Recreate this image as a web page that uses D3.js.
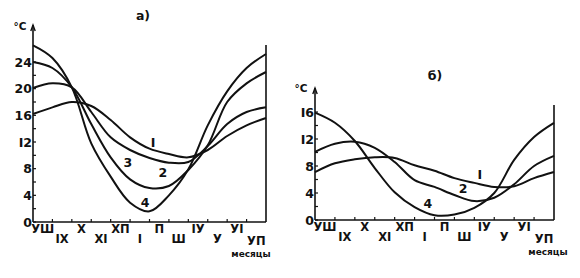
<!DOCTYPE html>
<html><head><meta charset="utf-8">
<script src="https://cdn.jsdelivr.net/npm/d3@7"></script>
<style>
html,body{margin:0;padding:0;background:#fff;}
svg text{font-family:"DejaVu Sans","Liberation Sans",sans-serif;fill:#111;}
</style></head>
<body><svg id="c" width="580" height="278"></svg>
<script>
// Month labels (as printed) - data values are read at month boundaries 0..12
const months = ["УШ","IX","X","XI","XП","I","П","Ш","IУ","У","УI","УП"];
const boundaryIdx = [0,1,2,3,4,5,6,7,8,9,10,11,12];

// Panel а) temperature series (°C), read at month boundaries
const a1 = [16.2,17.2,18.0,17.4,15.3,12.7,11.0,10.2,9.7,10.8,12.9,14.5,15.6];
const a2 = [20.1,20.8,20.2,16.5,12.7,10.8,9.6,8.9,9.0,11.4,14.7,16.5,17.2];
const a3 = [24.0,23.1,20.2,14.7,9.7,6.4,5.1,5.4,7.8,11.5,18.0,20.8,22.5];
const a4 = [26.5,24.6,20.2,11.8,6.8,2.9,1.6,4.0,7.9,14.5,19.6,23.1,25.2];
const ticksA = [0,4,8,12,16,20,24];
const tickLabelsA = ["0","4","8","I2","16","20","24"];

// Panel б) temperature series
const b1 = [7.1,8.4,9.0,9.3,9.2,8.1,7.3,6.2,5.5,4.9,5.0,6.2,7.1];
const b2 = [10.1,11.3,11.6,10.7,8.6,5.9,4.9,3.7,2.8,3.3,5.3,8.0,9.5];
const b4 = [15.9,14.4,11.7,7.7,4.1,1.9,0.7,0.8,1.8,4.0,8.9,12.3,14.4];
const ticksB = [0,4,8,12,16];
const tickLabelsB = ["0","4","8","I2","I6"];

// Curve labels [text, month position, temperature]
const curveLabelsA = [["I",6.18,11.9],["2",6.69,7.5],["3",4.89,9.0],["4",5.77,3.0]];
const curveLabelsB = [["I",8.28,6.7],["2",7.43,4.7],["4",5.67,2.5]];

const svg = d3.select("#c");

function panel(opt){
  const g = svg.append("g");
  const x = d3.scaleLinear().domain([0,12]).range(opt.xr);
  const y = d3.scaleLinear().domain(opt.yd).range(opt.yr);
  const x0 = opt.xr[0], x1 = opt.xr[1], y0 = y(0);
  // axes
  g.append("line").attr("x1",x0).attr("x2",x0).attr("y1",y0).attr("y2",opt.axTop)
    .attr("stroke","#111").attr("stroke-width",1.6);
  g.append("path").attr("d",`M${x0-2.2},${opt.axTop+6}L${x0},${opt.axTop}L${x0+2.2},${opt.axTop+6}`)
    .attr("fill","none").attr("stroke","#111").attr("stroke-width",1.4);
  g.append("line").attr("x1",x1).attr("x2",x1).attr("y1",y0).attr("y2",opt.rightTop)
    .attr("stroke","#111").attr("stroke-width",1.6);
  g.append("line").attr("x1",x0).attr("x2",x1).attr("y1",y0).attr("y2",y0)
    .attr("stroke","#111").attr("stroke-width",1.6);
  // y minor ticks every 2 degrees
  const ym = d3.range(0, opt.yd[1]+0.1, 2);
  g.selectAll(".ymt").data(ym).join("line")
    .attr("x1",x0).attr("x2",x0+3).attr("y1",d=>y(d)).attr("y2",d=>y(d))
    .attr("stroke","#111").attr("stroke-width",1.2);
  // x ticks at month boundaries
  g.selectAll(".xt").data(boundaryIdx.slice(1,12)).join("line")
    .attr("x1",d=>x(d)).attr("x2",d=>x(d)).attr("y1",y0).attr("y2",y0-3)
    .attr("stroke","#111").attr("stroke-width",1.2);
  // y tick labels
  g.selectAll(".yl").data(opt.ticks).join("text")
    .attr("x",x0-1).attr("y",d=>y(d)).attr("dy","0.36em")
    .attr("text-anchor","end").attr("font-size",12.5).attr("font-weight","bold")
    .text((d,i)=>opt.tickLabels[i]);
  // month labels staggered
  g.selectAll(".ml").data(months).join("text")
    .attr("x",(d,i)=>x(i+0.5)).attr("y",(d,i)=> i===11 ? y0+22.5 : (i%2===0 ? y0+11 : y0+21))
    .attr("text-anchor","middle").attr("font-size",11.5).attr("font-weight","bold")
    .attr("font-family","'Liberation Serif',serif")
    .text(d=>d);
  g.append("text").attr("x",opt.mesX).attr("y",y0+35).attr("text-anchor","middle")
    .attr("font-size",9).attr("font-weight","bold").text("месяцы");
  g.append("text").attr("x",opt.degX).attr("y",opt.degY).attr("text-anchor","middle")
    .attr("font-size",10.5).attr("font-weight","bold").text("°C");
  g.append("text").attr("x",opt.titleX).attr("y",opt.titleY).attr("text-anchor","middle")
    .attr("font-size",12.5).attr("font-weight","bold").text(opt.title);
  // curves
  const line = d3.line().x((d,i)=>x(boundaryIdx[i])).y(d=>y(d)).curve(d3.curveCatmullRom.alpha(0.5));
  g.selectAll(".cv").data(opt.series).join("path")
    .attr("d",d=>line(d)).attr("fill","none").attr("stroke","#111").attr("stroke-width",2);
  g.selectAll(".cl").data(opt.labels).join("text")
    .attr("x",d=>x(d[1])).attr("y",d=>y(d[2])).attr("dy","0.36em").attr("text-anchor","middle")
    .attr("font-size",12.5).attr("font-weight","bold").text(d=>d[0]);
}

panel({xr:[33,266], yd:[0,24], yr:[222,62], axTop:25, rightTop:45,
  ticks:ticksA, tickLabels:tickLabelsA, series:[a1,a2,a3,a4], labels:curveLabelsA,
  mesX:251, degX:20, degY:30, titleX:143, titleY:20, title:"а)"});
panel({xr:[315,554], yd:[0,16], yr:[220,112], axTop:88, rightTop:105,
  ticks:ticksB, tickLabels:tickLabelsB, series:[b1,b2,b4], labels:curveLabelsB,
  mesX:548, degX:301, degY:92, titleX:435, titleY:80, title:"б)"});
</script></body></html>
